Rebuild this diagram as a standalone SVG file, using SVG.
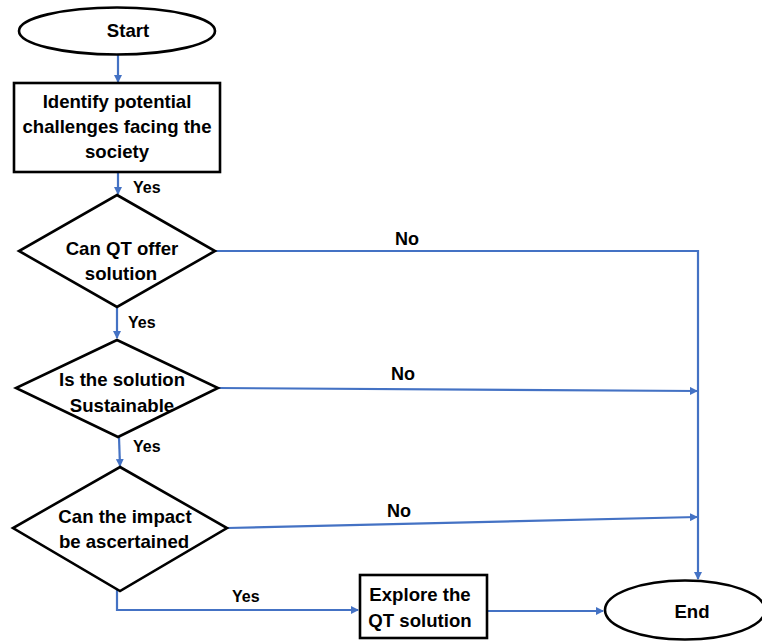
<svg xmlns="http://www.w3.org/2000/svg" width="762" height="641" viewBox="0 0 762 641">
<defs>
<style>
.shape{fill:#fff;stroke:#000;stroke-width:2.6}
.t{font-family:"Liberation Sans",Arial,sans-serif;font-weight:bold;font-size:18.6px;fill:#000;text-anchor:middle}
.lbl{font-family:"Liberation Sans",Arial,sans-serif;font-weight:bold;font-size:16px;fill:#000}
.no{font-family:"Liberation Sans",Arial,sans-serif;font-weight:bold;font-size:18px;fill:#000}
.c{fill:none;stroke:#4472C4;stroke-width:2.2}
</style>
<marker id="ah" markerWidth="8" markerHeight="8" refX="7" refY="4" orient="auto" markerUnits="userSpaceOnUse">
<path d="M0,0 L8,4 L0,8 Z" fill="#4472C4"/>
</marker>
</defs>
<rect width="762" height="641" fill="#fff"/>
<g id="connectors">
<line class="c" x1="118" y1="55" x2="118" y2="82" marker-end="url(#ah)"/>
<line class="c" x1="118" y1="172" x2="118" y2="194" marker-end="url(#ah)"/>
<line class="c" x1="117" y1="307" x2="117" y2="338" marker-end="url(#ah)"/>
<line class="c" x1="119" y1="437" x2="120" y2="466" marker-end="url(#ah)"/>
<polyline class="c" points="117,583 117,610 358,610" marker-end="url(#ah)"/>
<line class="c" x1="487" y1="611" x2="603" y2="611" marker-end="url(#ah)"/>
<polyline class="c" points="215,251 698,251 698,579" marker-end="url(#ah)"/>
<line class="c" x1="218" y1="388" x2="697" y2="391" marker-end="url(#ah)"/>
<line class="c" x1="227" y1="528" x2="697" y2="517" marker-end="url(#ah)"/>
<text class="lbl" x="133" y="193">Yes</text>
<text class="lbl" x="128" y="328">Yes</text>
<text class="lbl" x="133" y="452">Yes</text>
<text class="lbl" x="232" y="602">Yes</text>
<text class="no" x="395" y="245">No</text>
<text class="no" x="391" y="380">No</text>
<text class="no" x="387" y="517">No</text>
</g>
<g id="start">
<ellipse class="shape" cx="117" cy="31" rx="98" ry="23.5"/>
<text class="t" x="128" y="37">Start</text>
</g>
<g id="identify">
<rect class="shape" x="14" y="83" width="206" height="89"/>
<text class="t" x="117" y="108">Identify potential</text>
<text class="t" x="117" y="133">challenges facing the</text>
<text class="t" x="117" y="158">society</text>
</g>
<g id="decision1">
<polygon class="shape" points="117,195 215,251 117,307 19,251"/>
<text class="t" x="122" y="255">Can QT offer</text>
<text class="t" x="121" y="280">solution</text>
</g>
<g id="decision2">
<polygon class="shape" points="117,340 218,388 118,437 16,388"/>
<text class="t" x="122" y="386">Is the solution</text>
<text class="t" x="122" y="412">Sustainable</text>
</g>
<g id="decision3">
<polygon class="shape" points="120,467 227,528 120,591 13,528"/>
<text class="t" x="125" y="523">Can the impact</text>
<text class="t" x="124" y="548">be ascertained</text>
</g>
<g id="explore">
<rect class="shape" x="360" y="575" width="127" height="63"/>
<text class="t" x="420" y="601">Explore the</text>
<text class="t" x="420" y="627">QT solution</text>
</g>
<g id="end">
<ellipse class="shape" cx="685" cy="610" rx="80" ry="29.5"/>
<text class="t" x="692" y="618">End</text>
</g>
</svg>
